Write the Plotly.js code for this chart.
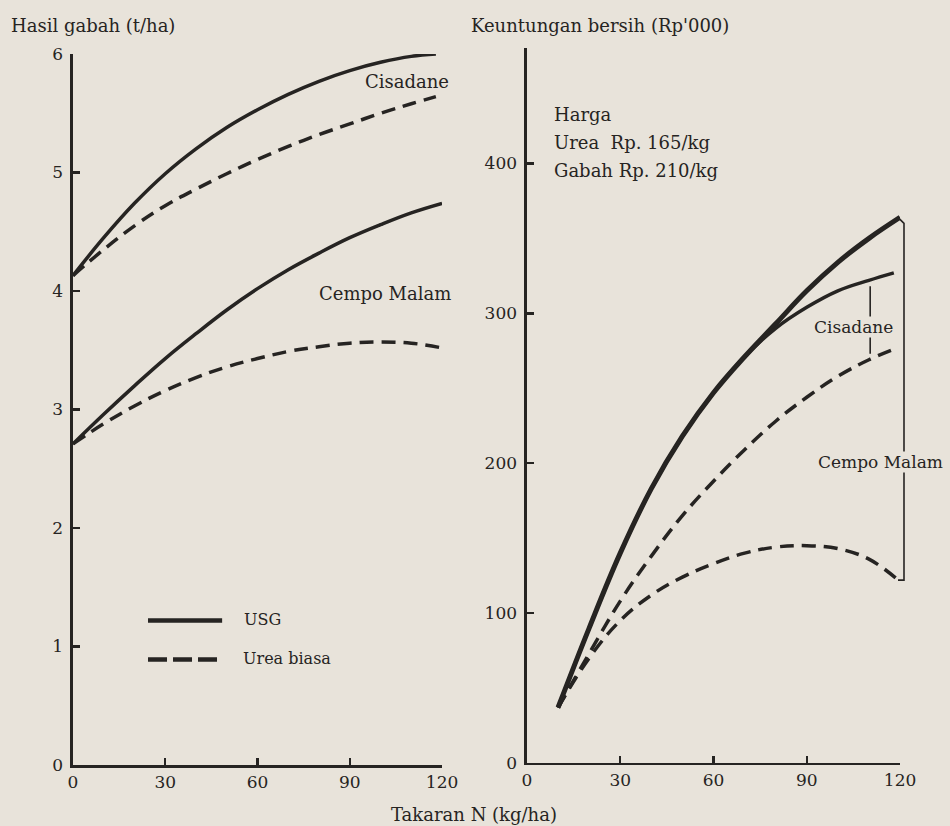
<!DOCTYPE html>
<html><head><meta charset="utf-8">
<script src="https://cdn.plot.ly/plotly-3.0.1.min.js"></script>
<style>html,body{margin:0;padding:0;background:#e8e3da}</style>
</head><body><div id="chart" style="width:950px;height:826px"></div>
<script>
// ---- Left panel: Hasil gabah (t/ha) ----
const nCisadaneLeft = [0, 10, 20, 30, 40, 50, 60, 70, 80, 90, 100, 110, 118];
const yieldCisadaneUSG  = [4.13, 4.45, 4.74, 4.99, 5.20, 5.38, 5.53, 5.66, 5.77, 5.86, 5.93, 5.98, 6.00];
const yieldCisadaneUrea = [4.13, 4.35, 4.55, 4.72, 4.86, 4.99, 5.11, 5.22, 5.32, 5.41, 5.50, 5.58, 5.64];
const nCempoLeft = [0, 10, 20, 30, 40, 50, 60, 70, 80, 90, 100, 110, 120];
const yieldCempoUSG  = [2.71, 2.96, 3.20, 3.43, 3.64, 3.84, 4.02, 4.18, 4.32, 4.45, 4.56, 4.66, 4.74];
const yieldCempoUrea = [2.71, 2.88, 3.03, 3.16, 3.27, 3.36, 3.43, 3.49, 3.53, 3.56, 3.57, 3.56, 3.52];

// ---- Right panel: Keuntungan bersih (Rp'000) ----
const nCisadaneRight = [10, 20, 30, 40, 50, 60, 70, 80, 90, 100, 110, 118];
const profitCisadaneUSG  = [37, 90, 140, 183, 218, 247, 271, 290, 304, 315, 322, 327];
const profitCisadaneUrea = [37, 73, 108, 138, 165, 188, 209, 228, 244, 258, 269, 276];
const nCempoRight = [10, 20, 30, 40, 50, 60, 70, 80, 90, 100, 110, 120];
const profitCempoUSG  = [37, 90, 140, 183, 218, 247, 271, 293, 315, 334, 350, 364];
const profitCempoUrea = [37, 70, 95, 112, 124, 133, 140, 144, 145, 143, 136, 121];

const xTicks = [0, 30, 60, 90, 120];
const yTicksLeft = [0, 1, 2, 3, 4, 5, 6];
const yTicksRight = [0, 100, 200, 300, 400];

const INK = '#262422';
const BG = '#e8e3da';
const FONT = 'DejaVu Serif';
const DASH = '14px,8px';

function tr(x, y, xa, ya, dashed, w) {
  return {x: x, y: y, xaxis: xa, yaxis: ya, type: 'scatter', mode: 'lines',
    line: {color: INK, width: w || 3.5, dash: dashed ? DASH : 'solid', shape: 'spline', smoothing: 1.1},
    showlegend: false, hoverinfo: 'skip'};
}

const data = [
  tr(nCisadaneLeft, yieldCisadaneUSG, 'x', 'y', false),
  tr(nCisadaneLeft, yieldCisadaneUrea, 'x', 'y', true),
  tr(nCempoLeft, yieldCempoUSG, 'x', 'y', false),
  tr(nCempoLeft, yieldCempoUrea, 'x', 'y', true),
  tr(nCisadaneRight, profitCisadaneUrea, 'x2', 'y2', true, 3.5),
  tr(nCempoRight, profitCempoUrea, 'x2', 'y2', true, 3.5),
  tr(nCempoRight, profitCempoUSG, 'x2', 'y2', false, 5),
  tr(nCisadaneRight, profitCisadaneUSG, 'x2', 'y2', false, 3.5)
];

const axisStyle = {showline: true, linewidth: 2.5, linecolor: INK, ticks: 'inside', ticklen: 7,
  tickwidth: 2.5, tickcolor: INK, showgrid: false, zeroline: false, fixedrange: true,
  tickfont: {family: FONT, size: 17, color: INK}};

// bracket ends derived from the series
const iCis110 = nCisadaneRight.indexOf(110);
const cisBracketX = 110.4;
const cisTop = profitCisadaneUSG[iCis110] - 4;
const cisBottom = profitCisadaneUrea[iCis110] + 4;
const lastCempo = profitCempoUSG.length - 1;
const cempoTop = profitCempoUSG[lastCempo] - 2;
const cempoBottom = profitCempoUrea[lastCempo] + 1;
const bx = 904 / 950, hx = 898 / 950;

const layout = {
  width: 950, height: 826,
  margin: {l: 0, r: 0, t: 0, b: 0, autoexpand: false},
  paper_bgcolor: BG, plot_bgcolor: 'rgba(0,0,0,0)',
  font: {family: FONT, color: INK, size: 17},
  xaxis: Object.assign({}, axisStyle, {domain: [0.0768, 0.4653], range: [0, 120], tickvals: xTicks, anchor: 'y'}),
  yaxis: Object.assign({}, axisStyle, {domain: [0.0738, 0.9346], range: [0, 6], tickvals: yTicksLeft, anchor: 'x', ticklabelstandoff: 4}),
  xaxis2: Object.assign({}, axisStyle, {domain: [0.5547, 0.9474], range: [0, 120], tickvals: xTicks, anchor: 'y2'}),
  yaxis2: Object.assign({}, axisStyle, {domain: [0.0763, 0.9419], range: [0, 477], tickvals: yTicksRight, anchor: 'x2', ticklabelstandoff: 4}),
  shapes: [
    // legend swatches
    {type: 'line', xref: 'x', yref: 'y', x0: 24.4, x1: 48.5, y0: 1.22, y1: 1.22, line: {color: INK, width: 4.5}},
    {type: 'line', xref: 'x', yref: 'y', x0: 24.4, x1: 48.5, y0: 0.89, y1: 0.89, line: {color: INK, width: 4.5, dash: '19px,6px'}},
    // Cisadane bracket (right panel)
    {type: 'line', xref: 'x2', yref: 'y2', x0: cisBracketX, x1: cisBracketX, y0: cisTop, y1: cisBottom, line: {color: INK, width: 1.6}},
    // Cempo Malam bracket (right panel)
    {type: 'path', xref: 'paper', yref: 'y2',
     path: 'M ' + hx + ' ' + (cempoTop + 2) + ' L ' + bx + ' ' + (cempoTop - 2) + ' L ' + bx + ' ' + cempoBottom + ' L ' + hx + ' ' + cempoBottom,
     line: {color: INK, width: 1.6}}
  ],
  annotations: [
    {xref: 'paper', yref: 'paper', x: 9/950, y: 1 - 26/826, xanchor: 'left', yanchor: 'middle', showarrow: false,
     text: 'Hasil gabah (t/ha)', font: {size: 18}},
    {xref: 'paper', yref: 'paper', x: 469/950, y: 1 - 26/826, xanchor: 'left', yanchor: 'middle', showarrow: false,
     text: "Keuntungan bersih (Rp'000)", font: {size: 18}},
    {xref: 'paper', yref: 'paper', x: 474/950, y: 1 - 814/826, xanchor: 'center', yanchor: 'middle', showarrow: false,
     text: 'Takaran N (kg/ha)', font: {size: 18}},
    {xref: 'x', yref: 'y', x: 108.6, y: 5.77, showarrow: false, text: 'Cisadane', font: {size: 18}},
    {xref: 'x', yref: 'y', x: 101.5, y: 3.98, showarrow: false, text: 'Cempo Malam', font: {size: 18}},
    {xref: 'x', yref: 'y', x: 55, y: 1.23, xanchor: 'left', showarrow: false, text: 'USG', font: {size: 16}},
    {xref: 'x', yref: 'y', x: 54.6, y: 0.90, xanchor: 'left', showarrow: false, text: 'Urea biasa', font: {size: 16}},
    {xref: 'paper', yref: 'paper', x: 552/950, y: 1 - 102/826, xanchor: 'left', showarrow: false, text: 'Harga', font: {size: 18}},
    {xref: 'paper', yref: 'paper', x: 552/950, y: 1 - 130/826, xanchor: 'left', showarrow: false, text: 'Urea  Rp. 165/kg', font: {size: 18}},
    {xref: 'paper', yref: 'paper', x: 552/950, y: 1 - 158/826, xanchor: 'left', showarrow: false, text: 'Gabah Rp. 210/kg', font: {size: 18}},
    {xref: 'x2', yref: 'y2', x: 105, y: 291, showarrow: false, text: 'Cisadane', font: {size: 17}, bgcolor: BG, borderpad: 0},
    {xref: 'x2', yref: 'y2', x: 113.6, y: 200.7, showarrow: false, text: 'Cempo Malam', font: {size: 17}, bgcolor: BG, borderpad: 0}
  ]
};

Plotly.newPlot('chart', data, layout, {staticPlot: true, displayModeBar: false});
</script>
</body></html>
